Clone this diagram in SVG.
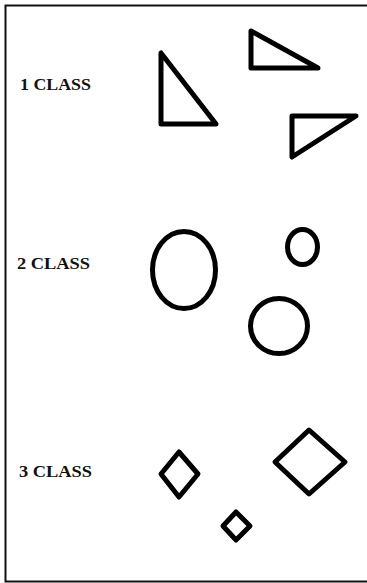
<svg xmlns="http://www.w3.org/2000/svg" width="367" height="583" viewBox="0 0 367 583">
<style>
.frame{fill:none;stroke:#111;stroke-width:2}
.shape{fill:none;stroke:#000;stroke-width:5;stroke-linejoin:round;stroke-linecap:round}
.lbl{font-family:"Liberation Serif","Times New Roman",serif;font-weight:bold;font-size:17.5px;fill:#111}
</style>
<rect width="367" height="583" fill="#fff"/>
<rect class="frame" x="5.5" y="5.5" width="370" height="576"/>
<g id="class1">
<text class="lbl" x="20" y="90" textLength="71" lengthAdjust="spacingAndGlyphs">1 CLASS</text>
<polygon class="shape" points="161,53 161,124 216,124"/>
<polygon class="shape" points="251,31 251,68 318,68"/>
<polygon class="shape" points="292,116 356,116 292,157"/>
</g>
<g id="class2">
<text class="lbl" x="17" y="269" textLength="73" lengthAdjust="spacingAndGlyphs">2 CLASS</text>
<ellipse class="shape" cx="184" cy="270" rx="31.5" ry="38.5"/>
<ellipse class="shape" cx="302.5" cy="247" rx="15" ry="17.5"/>
<ellipse class="shape" cx="279" cy="326" rx="28.5" ry="27.5"/>
</g>
<g id="class3">
<text class="lbl" x="19" y="477" textLength="73" lengthAdjust="spacingAndGlyphs">3 CLASS</text>
<polygon class="shape" points="179,452 198,474 179,497 161,474"/>
<polygon class="shape" points="309,430 345,462 309,494 275,462"/>
<polygon class="shape" points="236,512 250,526 236,540 223,526"/>
</g>
<g id="connectors"/>
</svg>
